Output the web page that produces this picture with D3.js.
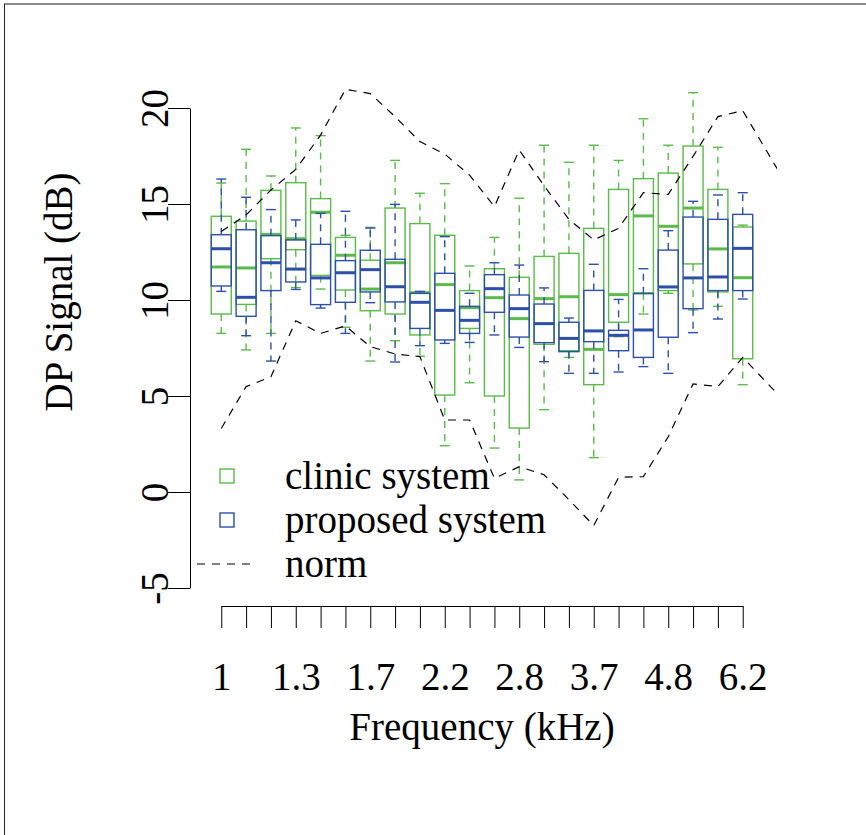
<!DOCTYPE html>
<html>
<head>
<meta charset="utf-8">
<script src="https://cdn.jsdelivr.net/npm/d3@7"></script>
<style>
  body { margin: 0; background: #fff; }
  svg { display: block; }
  text { font-family: "Liberation Serif", "DejaVu Serif", serif; fill: #000; }
</style>
</head>
<body>
<svg id="chart" width="866" height="835"></svg>
<script>
// frequencies in kHz (1/8 octave steps), one box pair per frequency
var freqs = ["1", "1.09", "1.19", "1.3", "1.41", "1.54", "1.7", "1.83", "2", "2.2", "2.38",
             "2.59", "2.8", "3.08", "3.36", "3.7", "4", "4.36", "4.8", "5.19", "5.66", "6.2"];
var labelled = ["1", "1.3", "1.7", "2.2", "2.8", "3.7", "4.8", "6.2"];
var yTicks = [-5, 0, 5, 10, 15, 20];

// clinic system box stats (dB)
var clinicHi  = [16.09, 17.85, 16.46, 18.96, 18.56, 13.37, 13.78, 17.27, 15.56, 16.06, 11.77, 13.26, 15.30, 18.06, 17.17, 18.06, 17.27, 19.44, 18.06, 20.80, 17.95, 13.90];
var clinicQ3  = [14.36, 14.11, 15.71, 16.11, 15.28, 13.26, 12.07, 14.79, 13.98, 13.37, 10.49, 11.63, 11.18, 12.27, 12.43, 13.73, 15.76, 16.32, 16.61, 18.02, 15.76, 13.80];
var clinicMed = [11.72, 11.67, 13.42, 13.19, 14.57, 12.33, 10.57, 11.94, 10.38, 10.80, 9.60, 10.12, 9.03, 10.07, 10.17, 7.43, 10.28, 14.38, 13.84, 14.79, 12.66, 11.16];
var clinicQ1  = [9.27, 9.77, 12.15, 12.62, 11.28, 10.52, 9.44, 9.27, 8.18, 5.05, 8.52, 5.00, 3.33, 7.69, 7.36, 5.59, 8.84, 10.38, 10.49, 11.88, 10.42, 6.94];
var clinicLo  = [8.26, 7.40, 8.26, 10.65, 10.57, 8.58, 6.82, 7.88, 7.07, 2.41, 5.69, 2.29, 0.63, 4.29, 7.01, 1.79, 8.09, 9.27, 10.35, 9.48, 9.67, 5.59];

// proposed system box stats (dB)
var propHi  = [16.30, 15.35, 14.71, 14.17, 14.51, 14.62, 13.75, 14.98, 10.45, 13.30, 10.35, 11.94, 11.82, 10.63, 9.06, 11.86, 10.03, 11.63, 13.61, 15.14, 15.47, 15.59];
var propQ3  = [13.40, 13.66, 13.35, 13.13, 12.90, 12.05, 12.59, 12.12, 10.35, 11.39, 9.67, 11.32, 10.26, 9.79, 8.84, 10.50, 8.42, 10.33, 12.60, 14.32, 14.20, 14.46];
var propMed = [12.67, 10.14, 11.94, 11.61, 11.15, 11.42, 11.58, 10.69, 9.88, 9.46, 8.94, 10.59, 9.55, 8.77, 8.00, 8.39, 8.16, 8.44, 10.68, 11.15, 11.20, 12.69];
var propQ1  = [10.73, 9.15, 10.49, 10.94, 9.76, 9.88, 10.42, 9.90, 8.52, 7.92, 8.26, 9.36, 8.07, 7.78, 7.31, 7.83, 7.36, 7.01, 8.06, 9.55, 10.49, 10.49];
var propLo  = [10.45, 8.14, 6.82, 10.55, 9.58, 8.26, 9.86, 6.77, 7.62, 7.74, 7.79, 8.18, 7.53, 6.79, 6.18, 6.18, 6.25, 6.53, 6.18, 8.30, 9.01, 10.05];

// norm band, runs two steps past the last box and is clipped by the plot region
var normUpper = [13.57, 14.43, 15.73, 16.80, 18.59, 20.97, 20.75, 19.55, 18.25, 17.60, 16.50, 14.86,
                 17.81, 15.95, 14.20, 13.13, 13.73, 15.59, 15.50, 17.48, 19.55, 19.86, 17.68, 15.50];
var normLower = [3.31, 5.49, 6.00, 8.92, 8.26, 8.65, 7.57, 7.19, 7.05, 3.75, 3.75, 0.71,
                 1.32, 0.90, -0.40, -1.75, 0.76, 0.80, 2.88, 5.63, 5.49, 7.01, 5.65, 4.30];

var green = "#5cb94b";
var blue = "#2d4fa6";
var fontSize = "39px";

var svg = d3.select("#chart");
var plotLeft = 187, plotRight = 777, plotBottom = 606;

// index scale for the whole plot region (R style: 0.5 padding + 4%)
var xi = d3.scaleLinear().domain([-1.38, 22.38]).range([plotLeft, plotRight]);
var x = d3.scalePoint().domain(freqs).range([xi(0), xi(freqs.length - 1)]);
var y = d3.scaleLinear().domain([-5, 20]).range([588, 108]);
var boxW = 20, capW = 10;

// frame
svg.append("line").attr("x1", 4).attr("x2", 866).attr("y1", 4).attr("y2", 4)
    .attr("stroke", "#8a8a8a").attr("stroke-width", 2);
svg.append("line").attr("x1", 4.5).attr("x2", 4.5).attr("y1", 4).attr("y2", 835)
    .attr("stroke", "#222").attr("stroke-width", 1);

svg.append("clipPath").attr("id", "plotClip").append("rect")
    .attr("x", plotLeft).attr("y", 0).attr("width", plotRight - plotLeft).attr("height", plotBottom);

function drawBoxes(color, hi, q3, med, q1, lo) {

    var g = svg.append("g").attr("stroke", color).attr("fill", "none");

    var rows = freqs.map(function(f, i) {
        return {f: f, hi: hi[i], q3: q3[i], med: med[i], q1: q1[i], lo: lo[i]};
    });

    var box = g.selectAll("g.box").data(rows).enter().append("g").attr("class", "box")
        .attr("transform", function(d) { return "translate(" + x(d.f) + ",0)"; });

    // whiskers
    box.append("line").attr("y1", function(d) { return y(d.q3); }).attr("y2", function(d) { return y(d.hi); })
        .attr("stroke-width", 1.4).attr("stroke-dasharray", "7,6");
    box.append("line").attr("y1", function(d) { return y(d.q1); }).attr("y2", function(d) { return y(d.lo); })
        .attr("stroke-width", 1.4).attr("stroke-dasharray", "7,6");

    // staples
    box.append("line").attr("x1", -capW / 2).attr("x2", capW / 2)
        .attr("y1", function(d) { return y(d.hi); }).attr("y2", function(d) { return y(d.hi); }).attr("stroke-width", 1.4);
    box.append("line").attr("x1", -capW / 2).attr("x2", capW / 2)
        .attr("y1", function(d) { return y(d.lo); }).attr("y2", function(d) { return y(d.lo); }).attr("stroke-width", 1.4);

    // box + median
    box.append("rect").attr("x", -boxW / 2).attr("width", boxW)
        .attr("y", function(d) { return y(d.q3); })
        .attr("height", function(d) { return y(d.q1) - y(d.q3); })
        .attr("stroke-width", 1.4);
    box.append("line").attr("x1", -boxW / 2).attr("x2", boxW / 2)
        .attr("y1", function(d) { return y(d.med); }).attr("y2", function(d) { return y(d.med); })
        .attr("stroke-width", 3);
}

drawBoxes(green, clinicHi, clinicQ3, clinicMed, clinicQ1, clinicLo);
drawBoxes(blue, propHi, propQ3, propMed, propQ1, propLo);

// norm lines
var normLine = d3.line().x(function(d, i) { return xi(i); }).y(function(d) { return y(d); });
var normG = svg.append("g").attr("clip-path", "url(#plotClip)");
[normUpper, normLower].forEach(function(series) {
    normG.append("path").attr("d", normLine(series)).attr("fill", "none")
        .attr("stroke", "#000").attr("stroke-width", 1.2).attr("stroke-dasharray", "8,7");
});

// x axis
var xAxis = d3.axisBottom(x).tickSize(22).tickSizeOuter(0).tickPadding(34)
    .tickFormat(function(d) { return labelled.indexOf(d) >= 0 ? d : ""; });
var xg = svg.append("g").attr("transform", "translate(0," + plotBottom + ")").call(xAxis);
xg.selectAll("text").style("font-size", fontSize).style("font-family", "Liberation Serif");
xg.selectAll("line, path").attr("stroke", "#000").attr("stroke-width", 1);

// y axis
var yAxis = d3.axisLeft(y).tickValues(yTicks).tickSize(22).tickSizeOuter(0)
    .tickFormat(function(d) { return String(d); });
var yg = svg.append("g").attr("transform", "translate(190,0)").call(yAxis);
yg.selectAll("line, path").attr("stroke", "#000").attr("stroke-width", 1);
yg.selectAll("text").attr("x", null).attr("dy", null)
    .attr("transform", "translate(-22,0) rotate(-90)")
    .style("text-anchor", "middle").style("font-size", fontSize).style("font-family", "Liberation Serif");

// axis titles
svg.append("text").attr("x", xi(10.5)).attr("y", 740).attr("text-anchor", "middle")
    .style("font-size", fontSize).text("Frequency (kHz)");
svg.append("text").attr("transform", "translate(72,292) rotate(-90)").attr("text-anchor", "middle")
    .style("font-size", fontSize).text("DP Signal (dB)");

// legend
var legend = svg.append("g");
var legendRows = [
    {label: "clinic system", color: green, kind: "box", cy: 476},
    {label: "proposed system", color: blue, kind: "box", cy: 520},
    {label: "norm", color: "#000", kind: "line", cy: 564}
];
legendRows.forEach(function(r) {
    if (r.kind === "box") {
        legend.append("rect").attr("x", 220).attr("y", r.cy - 7).attr("width", 14).attr("height", 14)
            .attr("fill", "none").attr("stroke", r.color).attr("stroke-width", 1.4);
    } else {
        legend.append("line").attr("x1", 197).attr("x2", 257).attr("y1", r.cy).attr("y2", r.cy)
            .attr("stroke", r.color).attr("stroke-width", 1.2).attr("stroke-dasharray", "8,7");
    }
    legend.append("text").attr("x", 285).attr("y", r.cy + 13).style("font-size", fontSize).text(r.label);
});
</script>
</body>
</html>
